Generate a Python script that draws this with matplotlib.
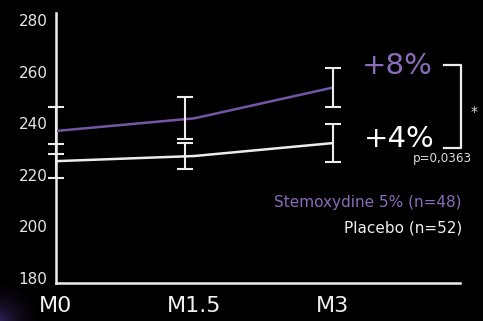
import matplotlib
matplotlib.use("Agg")
import matplotlib.pyplot as plt
import numpy as np

plt.rcParams['font.family'] = ['DejaVu Sans']

# Data
months = [0, 1.5, 3]
xlabels = ["M0", "M1.5", "M3"]
stemox = [237.0, 241.9, 253.8]
stemox_err = [9.1, 8.1, 7.4]
placebo = [225.3, 227.3, 232.3]
placebo_err = [6.6, 5.0, 7.4]
errbar_x = [0, 1.40, 3]
yticks = [180, 200, 220, 240, 260, 280]

purple = "#7357a6"
purple_txt = "#8a6cbb"
white = "#ececec"

fig = plt.figure(figsize=(4.83, 3.21), dpi=100, facecolor="black")

# faint purple glow in the bottom-left corner
gax = fig.add_axes([0, 0, 45/483, 45/321])
gax.axis('off')
yy, xx = np.mgrid[0:45, 0:45]
d = np.sqrt((xx) ** 2 + (44 - yy) ** 2) / 45.0
alpha = np.clip(1 - d, 0, 1) ** 2 * 0.5
img = np.zeros((45, 45, 4))
img[..., 0] = 0.35
img[..., 1] = 0.25
img[..., 2] = 0.65
img[..., 3] = alpha
gax.imshow(img, aspect='auto', interpolation='bilinear')

ax = fig.add_axes([56/483, 1-283/321, (460-56)/483, (283-13)/321])
ax.set_facecolor("none")

ax.plot(months, stemox, color=purple, lw=1.8, zorder=3)
ax.plot(months, placebo, color=white, lw=1.8, zorder=3)
ax.errorbar(errbar_x, stemox, yerr=stemox_err, fmt='none', ecolor=white,
            elinewidth=1.5, capsize=6, capthick=1.5, clip_on=False, zorder=4)
ax.errorbar(errbar_x, placebo, yerr=placebo_err, fmt='none', ecolor=white,
            elinewidth=1.5, capsize=6, capthick=1.5, clip_on=False, zorder=4)

ax.set_xlim(0, 4.38)
ax.set_ylim(178.1, 282.7)
ax.set_yticks(yticks)
ax.set_yticklabels([str(v) for v in yticks])
ax.set_xticks(months)
ax.set_xticklabels(xlabels)
ax.tick_params(axis='y', length=0, pad=6, labelsize=11, labelcolor="#e6e6e6")
ax.tick_params(axis='x', length=0, pad=9, labelsize=16, labelcolor="#f0f0f0")

for s in ['top', 'right']:
    ax.spines[s].set_visible(False)
for s in ['left', 'bottom']:
    ax.spines[s].set_color(white)
    ax.spines[s].set_linewidth(1.8)

def px(x, y):
    return (x / 483, 1 - y / 321)

fig.text(*px(397, 66), "+8%", color=purple_txt, fontsize=21, ha='center', va='center')
fig.text(*px(399, 139), "+4%", color="white", fontsize=21, ha='center', va='center')
fig.text(*px(472, 158), "p=0,0363", color="#dddddd", fontsize=8.6, ha='right', va='center')
fig.text(*px(462, 203), "Stemoxydine 5% (n=48)", color=purple_txt, fontsize=11, ha='right', va='center')
fig.text(*px(462, 228), "Placebo (n=52)", color="#eeeeee", fontsize=11, ha='right', va='center')
fig.text(*px(474, 112), "*", color="#dddddd", fontsize=10, ha='center', va='center')

# bracket
bx = [444/483, 461/483, 461/483, 444/483]
by = [1-65/321, 1-65/321, 1-148/321, 1-148/321]
fig.add_artist(plt.Line2D(bx, by, color=white, lw=1.6, transform=fig.transFigure))

fig.savefig("out.png", dpi=100, facecolor="black")
